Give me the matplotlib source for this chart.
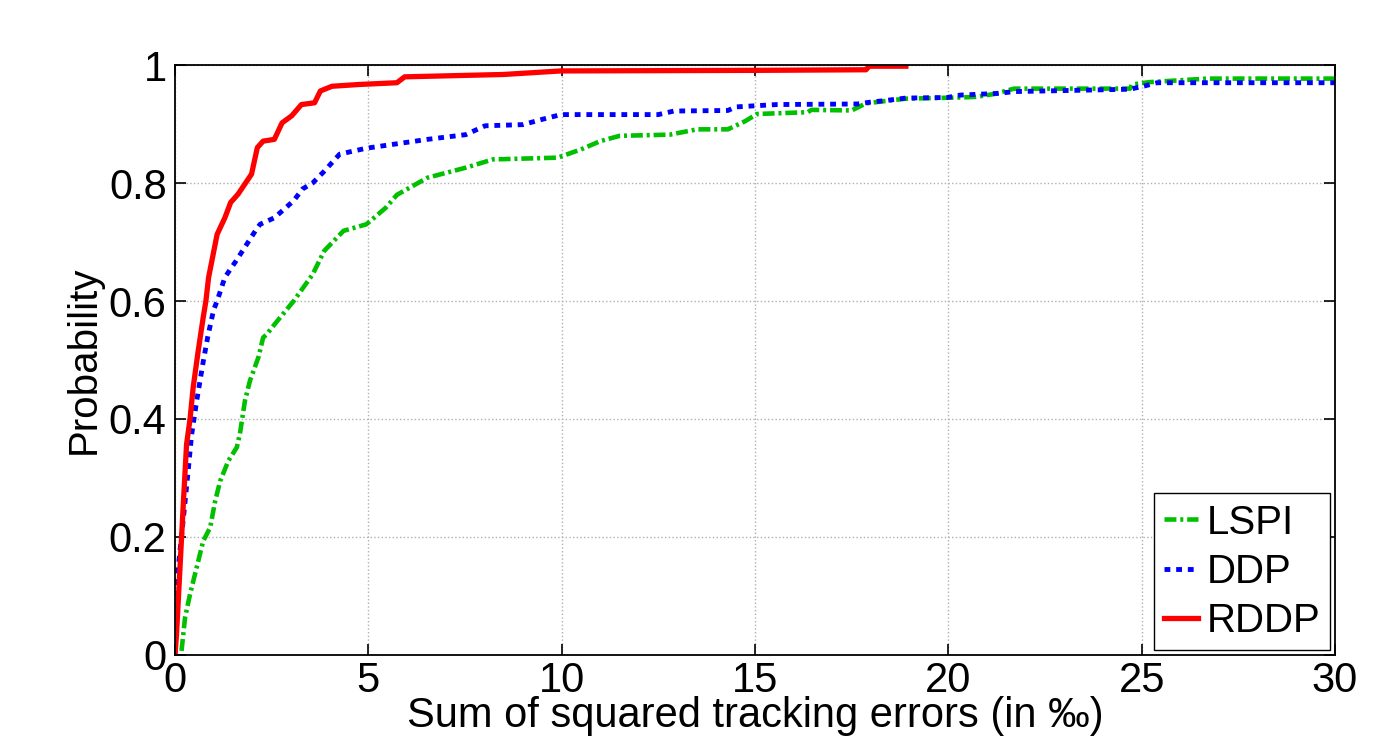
import matplotlib.pyplot as plt

plt.rcParams['font.family'] = ['Liberation Sans', 'DejaVu Sans']

# CDF points (x in per mille, y = probability)
rddp_x = [0, 0.04, 0.13, 0.22, 0.30, 0.39, 0.47, 0.6, 0.73, 0.8, 0.87, 1.09, 1.29, 1.44, 1.63,
          1.98, 2.13, 2.28, 2.57, 2.77, 3.02, 3.27, 3.61, 3.76, 4.06, 4.75, 5.74, 5.94, 8.5,
          9.98, 15.1, 17.87, 17.95, 18.9]
rddp_y = [0, 0.035, 0.148, 0.261, 0.357, 0.40, 0.453, 0.515, 0.572, 0.6, 0.64, 0.713, 0.741,
          0.767, 0.781, 0.815, 0.86, 0.871, 0.874, 0.902, 0.914, 0.933, 0.936, 0.956, 0.964,
          0.967, 0.97, 0.98, 0.984, 0.99, 0.991, 0.992, 0.998, 0.998]

ddp_x = [0, 0.02, 0.04, 0.22, 0.35, 0.43, 0.56, 0.73, 0.85, 1.0, 1.09, 1.29, 1.58, 2.08, 2.2,
         2.57, 3.07, 3.3, 3.56, 3.86, 4.26, 4.95, 6.53, 7.52, 8.02, 9.0, 9.5, 9.98, 12.5, 12.9,
         14.3, 14.5, 15.55, 17.65, 17.97, 18.4, 18.9, 19.98, 20.3, 21.3, 21.7, 24.7, 25.1,
         25.4, 30]
ddp_y = [0, 0.046, 0.12, 0.233, 0.318, 0.373, 0.43, 0.497, 0.54, 0.585, 0.6, 0.64, 0.668,
         0.719, 0.73, 0.741, 0.77, 0.79, 0.80, 0.82, 0.849, 0.859, 0.874, 0.882, 0.897, 0.899,
         0.908, 0.916, 0.916, 0.922, 0.923, 0.929, 0.933, 0.934, 0.937, 0.94, 0.944, 0.945,
         0.949, 0.952, 0.955, 0.959, 0.965, 0.970, 0.970]

lspi_x = [0.17, 0.26, 0.39, 0.56, 0.73, 0.91, 1.04, 1.17, 1.38, 1.6, 1.68, 1.81, 1.94, 2.16,
          2.28, 2.38, 2.57, 2.72, 3.07, 3.56, 3.86, 4.36, 4.95, 5.45, 5.74, 6.53, 7.52, 8.22,
          9.9, 10.5, 11.0, 11.5, 12.8, 13.5, 14.3, 14.75, 15.05, 16.36, 16.46, 17.5, 17.87,
          18.5, 18.9, 20.3, 20.7, 21.2, 21.7, 24.7, 24.75, 25.2, 26.7, 30]
lspi_y = [0.007, 0.063, 0.103, 0.148, 0.193, 0.216, 0.261, 0.295, 0.329, 0.352, 0.375, 0.431,
          0.465, 0.505, 0.538, 0.544, 0.56, 0.572, 0.6, 0.645, 0.685, 0.719, 0.73, 0.758, 0.78,
          0.809, 0.826, 0.84, 0.843, 0.857, 0.871, 0.88, 0.882, 0.891, 0.891, 0.905, 0.917,
          0.92, 0.924, 0.923, 0.935, 0.94, 0.943, 0.945, 0.946, 0.951, 0.96, 0.96, 0.967,
          0.971, 0.977, 0.977]

x_ticks = [0, 5, 10, 15, 20, 25, 30]
y_ticks = [0, 0.2, 0.4, 0.6, 0.8, 1]
y_ticklabels = ["0", "0.2", "0.4", "0.6", "0.8", "1"]

fig = plt.figure(figsize=(13.93, 7.39), dpi=100)
ax = fig.add_axes([0.1256, 0.1137, 0.8328, 0.7983])

ax.plot(lspi_x, lspi_y, color="#00c000", lw=3.3, dashes=(2.6, 0.85, 0.65, 0.85), label="LSPI")
ax.plot(ddp_x, ddp_y, color="#0000ff", lw=3.5, dashes=(1.2, 1.2), label="DDP")
ax.plot(rddp_x, rddp_y, color="#ff0000", lw=3.8, label="RDDP")

ax.set_xlim(0, 30)
ax.set_ylim(0, 1)
ax.set_xticks(x_ticks)
ax.set_yticks(y_ticks)
ax.set_yticklabels(y_ticklabels)
ax.tick_params(direction="in", length=8, width=1.2, labelsize=30, pad=6,
               top=True, right=True)
ax.tick_params(axis="x", pad=4)
ax.grid(True, linestyle=":", color="#b0b0b0", linewidth=1.0)
for s in ax.spines.values():
    s.set_linewidth(1.3)

ax.set_xlabel("Sum of squared tracking errors (in ‰)", fontsize=30, labelpad=-3)
ax.set_ylabel("Probability", fontsize=29, labelpad=4)

leg = ax.legend(loc="lower right", fontsize=29, handlelength=0.85, handletextpad=0.2,
                labelspacing=0.28, borderpad=0.25, borderaxespad=0.12, fancybox=False,
                framealpha=1)
leg.get_frame().set_edgecolor("black")
leg.get_frame().set_linewidth(1.0)

plt.savefig("out.png", dpi=100)
